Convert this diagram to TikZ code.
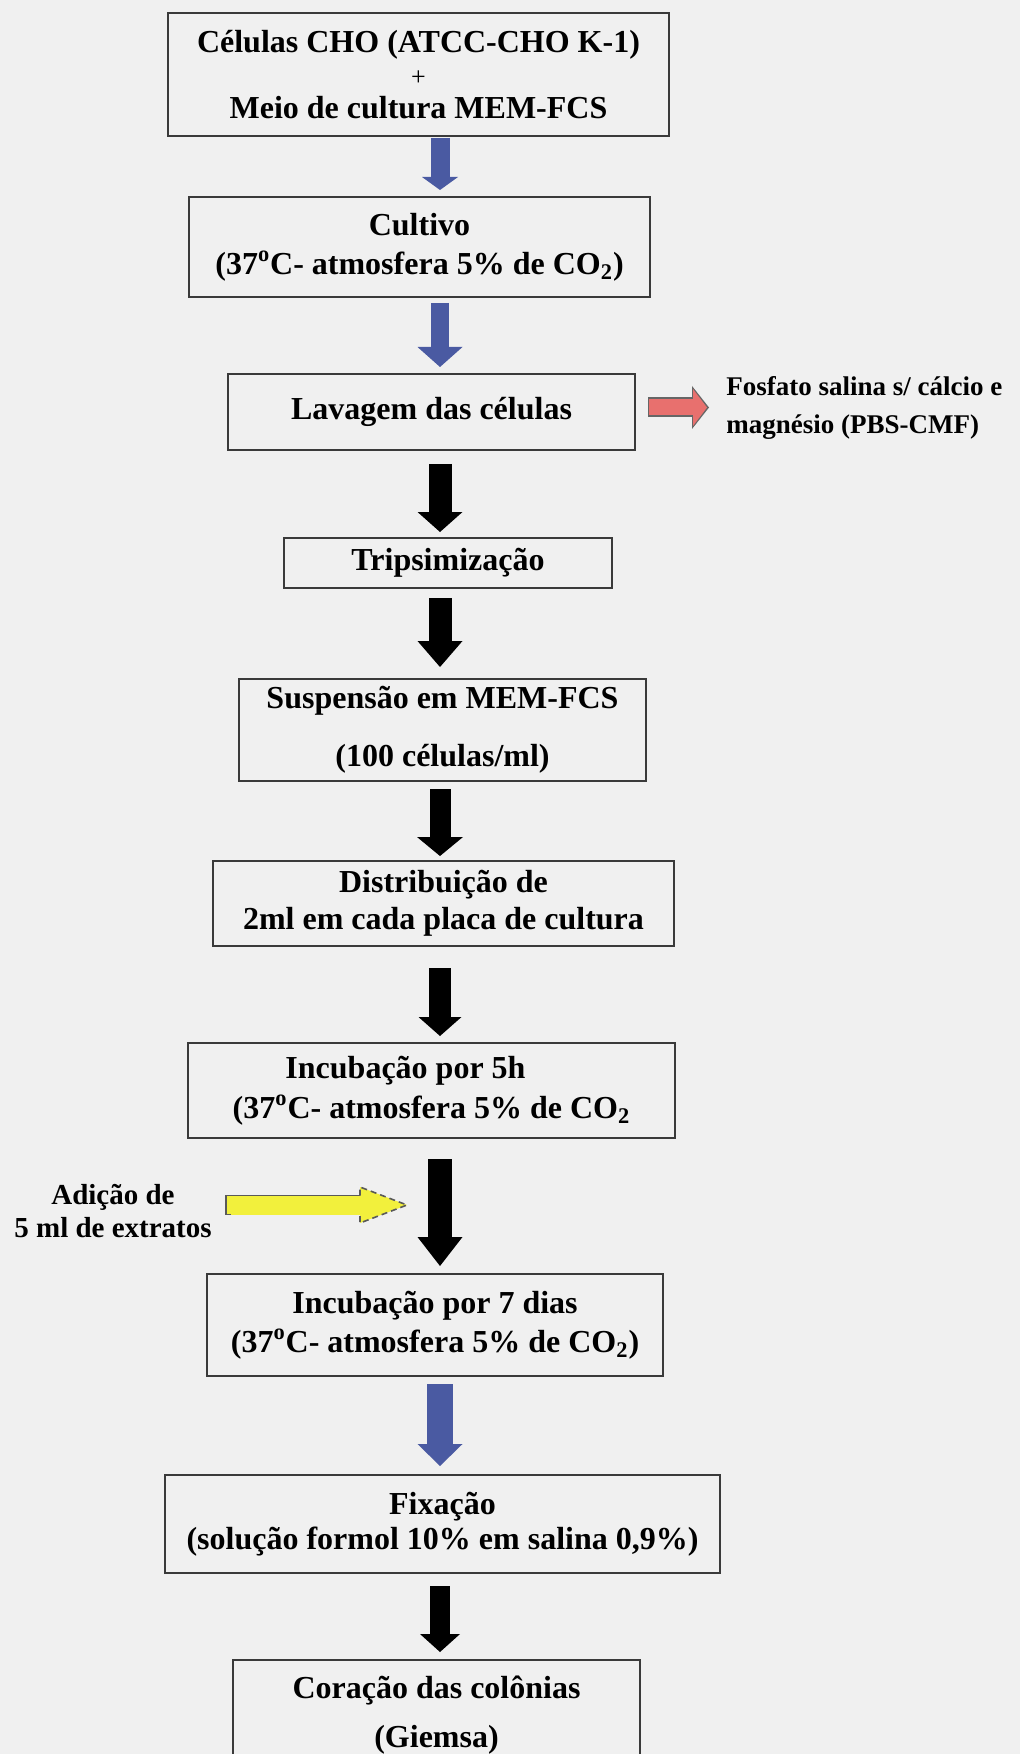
\documentclass[tikz,border=0pt]{standalone}
\usepackage{fontspec}
\setmainfont{Liberation Serif}
\usetikzlibrary{arrows.meta,calc}
\definecolor{bgpaper}{HTML}{F0F0F0}
\definecolor{boxline}{HTML}{3A3A3A}
\definecolor{flowblue}{RGB}{74,90,162}
\definecolor{flowblack}{HTML}{000000}
\definecolor{washred}{RGB}{232,112,110}
\definecolor{addyellow}{RGB}{242,240,60}
\tikzset{
  stage/.style={draw=boxline, line width=1pt, align=center, inner sep=0pt,
    font=\bfseries\fontsize{16}{16.5}\selectfont},
  flow/.style n args={4}{draw=#1, line width=#2,
    -{Triangle[width=#3, length=#4, line width=0pt]}},
  note/.style={inner sep=0pt, font=\bfseries\fontsize{13.5}{19}\selectfont}
}
\begin{document}
\begin{tikzpicture}[x=0.5pt, y=-0.5pt]
        \useasboundingbox (0,0) rectangle (1020,1754);
        \fill[bgpaper] (0,0) rectangle (1020,1754);
        \clip (0,0) rectangle (1020,1754);
        % Etapas do ensaio
        \node[stage, minimum width=250.5pt, minimum height=61.5pt] (cells) at (418.5,74.5)
            {Células CHO (ATCC-CHO K-1)\\{\mdseries\fontsize{13}{16.5}\selectfont +}\\Meio de cultura MEM-FCS};
        \node[stage, minimum width=230.5pt, minimum height=50pt] (cultivo) at (419.5,247)
            {Cultivo\\[3pt](37\textsuperscript{o}C- atmosfera 5\% de CO\textsubscript{2})};
        \node[stage, minimum width=203.5pt, minimum height=38pt] (lavagem) at (431.5,412)
            {Lavagem das células};
        \node[stage, minimum width=164pt, minimum height=25pt] (trips) at (448,563)
            {Tripsimização};
        \node[stage, minimum width=203.5pt, minimum height=51pt] (suspensao) at (442.5,730)
            {Suspensão em MEM-FCS\\[12.5pt](100 células/ml)};
        \node[stage, minimum width=230.5pt, minimum height=42.5pt] (distrib) at (443.5,903.5)
            {Distribuição de\\[2pt]2ml em cada placa de cultura};
        \node[stage, minimum width=243.5pt, minimum height=47.5pt] (incub5) at (431.5,1090.5)
            {Incubação por 5h\hspace*{26pt}\\[3.5pt](37\textsuperscript{o}C- atmosfera 5\% de CO\textsubscript{2}};
        \node[stage, minimum width=228pt, minimum height=51pt] (incub7) at (435,1325)
            {Incubação por 7 dias\\[3pt](37\textsuperscript{o}C- atmosfera 5\% de CO\textsubscript{2})};
        \node[stage, minimum width=277.5pt, minimum height=49pt] (fixacao) at (442.5,1524)
            {Fixação\\[1pt](solução formol 10\% em salina 0,9\%)};
        \node[stage, minimum width=203.5pt, minimum height=55pt] (coracao) at (436.5,1715)
            {Coração das colônias\\[8pt](Giemsa)};

        % Textos laterais
        \node[note, align=left, anchor=west] (pbs) at (726,407.5)
            {Fosfato salina s/ cálcio e\\magnésio (PBS-CMF)};
        \node[note, align=center, font=\bfseries\fontsize{14.5}{16.5}\selectfont] (adicao) at (113,1211.5)
            {Adição de\\5 ml de extratos};

        % Setas do fluxo
        \coordinate (axis) at (440,0);
        \foreach \from/\to/\col/\sw/\hw/\hl/\gapA/\gapB in {
            cells/cultivo/flowblue/9.5pt/18pt/6.5pt/0.5pt/3pt,
            cultivo/lavagem/flowblue/9pt/22.5pt/10pt/2.5pt/3pt,
            lavagem/trips/flowblack/11.5pt/22.5pt/10pt/6.5pt/2.5pt,
            trips/suspensao/flowblack/11.5pt/22.5pt/13pt/4.5pt/5.5pt,
            suspensao/distrib/flowblack/10.5pt/23pt/9.5pt/3.5pt/2pt,
            distrib/incub5/flowblack/11pt/21.5pt/9.5pt/10.5pt/3pt,
            incub5/incub7/flowblack/12pt/22.5pt/14.5pt/10pt/3.5pt,
            incub7/fixacao/flowblue/13pt/22.5pt/11pt/3.5pt/4pt,
            fixacao/coracao/flowblack/10pt/20pt/9pt/6pt/3.5pt}
        {
            \draw[flow={\col}{\sw}{\hw}{\hl}, shorten <=\gapA, shorten >=\gapB]
                (\from.south -| axis) -- (\to.north -| axis);
        }

        % Seta vermelha (lavagem)
        \draw[flow={black!60}{10pt}{21.5pt}{8.5pt}, shorten <=6pt, shorten >=8.5pt]
            (lavagem.east |- pbs.west) -- (pbs.west);
        \draw[flow={washred}{8pt}{18.5pt}{7pt}, shorten <=6.5pt, shorten >=9.5pt]
            (lavagem.east |- pbs.west) -- (pbs.west);

        % Seta amarela (extratos)
        \coordinate (addtip) at (407,1205);
        \draw[flow={addyellow}{9.5pt}{18pt}{23.5pt}, shorten <=6.5pt]
            (adicao.east |- addtip) -- (addtip);
        \draw[black!65, line width=0.8pt] (addtip) ++(-176,-9.5) -- ++(-5,0) -- ++(0,19) -- ++(5,0);
        \draw[black!65, line width=0.8pt] (addtip) ++(-181,-9.5) -- ++(134,0);
        \draw[black!65, line width=0.8pt, densely dashed] (addtip) ++(-47,-9.5) -- ++(0,-8.5)
            -- (addtip) -- ++(-47,18) -- ++(0,-8.5);
    \end{tikzpicture}
\end{document}
